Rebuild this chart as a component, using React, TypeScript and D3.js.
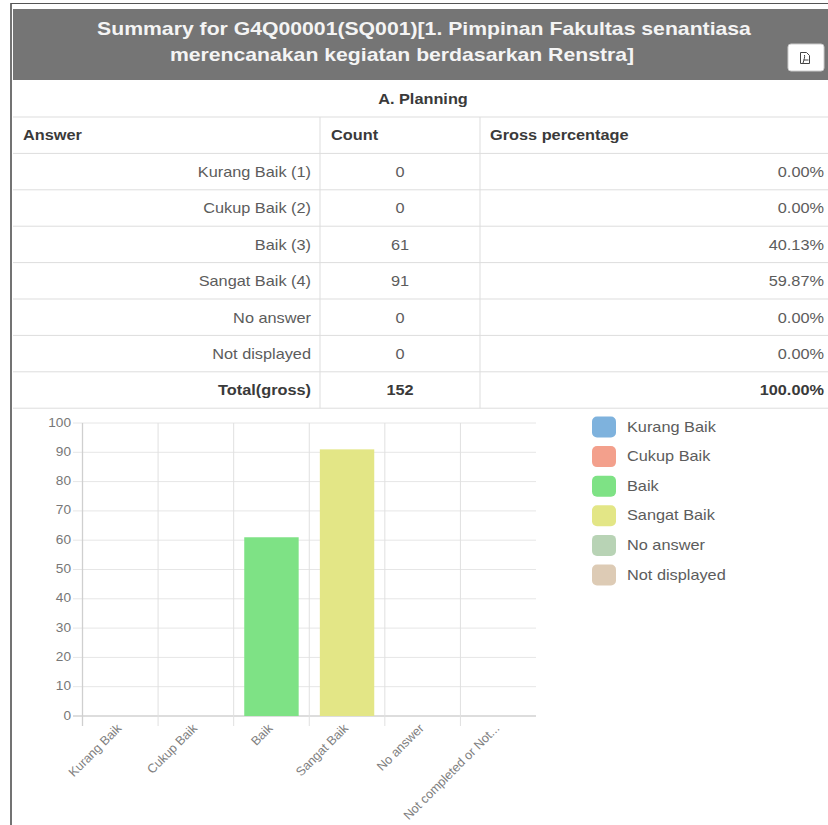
import React from "react";
import * as d3 from "d3";

const axisLabels = ["Kurang Baik", "Cukup Baik", "Baik", "Sangat Baik", "No answer", "Not completed or Not..."];
const legendLabels = ["Kurang Baik", "Cukup Baik", "Baik", "Sangat Baik", "No answer", "Not displayed"];
const answerLabels = ["Kurang Baik (1)", "Cukup Baik (2)", "Baik (3)", "Sangat Baik (4)", "No answer", "Not displayed"];
const counts = [0, 0, 61, 91, 0, 0];
const percents = ["0.00%", "0.00%", "40.13%", "59.87%", "0.00%", "0.00%"];
const colors = ["#7eb2dd", "#f3a08c", "#7ee285", "#e3e686", "#b8d3b5", "#ddcbb5"];
const yTicks = [0, 10, 20, 30, 40, 50, 60, 70, 80, 90, 100];
const titleLines = [
  "Summary for G4Q00001(SQ001)[1. Pimpinan Fakultas senantiasa",
  "merencanakan kegiatan berdasarkan Renstra]",
];
const titleCenters = [424, 402]; // second line sits left of the pdf button

const W = 828;
const H = 825;
const FONT = "'Liberation Sans', Arial, sans-serif";
const STRETCH = 1.14; // the screenshot is a bit wider than tall

const x = d3.scaleBand().domain(axisLabels).range([82.5, 536]);
const y = d3.scaleLinear().domain([0, 100]).range([716, 423]);
const barWidth = x.bandwidth() * 0.72;

const rowY = d3.scaleLinear().domain([0, 1]).range([117, 153.4]);
const legendY = d3.scaleLinear().domain([0, 1]).range([427, 456.6]);

function T({ x, y, anchor = "start", size = 14.3, weight = "normal", fill = "#5c5c5c", children }: any) {
  return (
    <text
      transform={`translate(${x},${y}) scale(${STRETCH},1)`}
      textAnchor={anchor}
      fontSize={size}
      fontWeight={weight}
      fill={fill}
      fontFamily={FONT}
    >
      {children}
    </text>
  );
}

export default function App() {
  const lineColor = "#dddddd";
  const rows = d3.range(9);
  return (
    <svg width={W} height={H} style={{ position: "absolute", left: 0, top: 0, background: "#fff" }}>
      {/* page frame */}
      <line x1={11} x2={11} y1={3} y2={H} stroke="#444" strokeWidth={1.5} />
      <line x1={11} x2={W} y1={3.5} y2={3.5} stroke="#555" strokeWidth={1} />

      {/* header */}
      <rect x={13} y={9} width={W - 13} height={71} fill="#757575" />
      {titleLines.map((t, i) => (
        <T key={t} x={titleCenters[i]} y={35 + i * 26} anchor="middle" size={18.6} weight="bold" fill="#f4f4f4">
          {t}
        </T>
      ))}
      <rect x={788} y={44} width={36} height={27} rx={3} fill="#fff" stroke="#ccc" />
      <path
        d="M800.5 52.5h6l3 3v8h-9z M803 63c1-3 2-6 1.5-8 M803.5 60h5"
        fill="none"
        stroke="#444"
        strokeWidth={1}
      />

      {/* table */}
      <T x={423} y={104} anchor="middle" weight="bold" fill="#3a3a3a">
        A. Planning
      </T>
      {rows.map((r) => (
        <line key={r} x1={13} x2={W} y1={rowY(r)} y2={rowY(r)} stroke={lineColor} />
      ))}
      <line x1={320} x2={320} y1={rowY(0)} y2={rowY(8)} stroke={lineColor} />
      <line x1={480} x2={480} y1={rowY(0)} y2={rowY(8)} stroke={lineColor} />
      <T x={23} y={140} weight="bold" fill="#3a3a3a">Answer</T>
      <T x={331} y={140} weight="bold" fill="#3a3a3a">Count</T>
      <T x={490} y={140} weight="bold" fill="#3a3a3a">Gross percentage</T>
      {answerLabels.map((a, i) => (
        <g key={a}>
          <T x={311} y={rowY(i + 1) + 23.5} anchor="end">{a}</T>
          <T x={400} y={rowY(i + 1) + 23.5} anchor="middle">{counts[i]}</T>
          <T x={824} y={rowY(i + 1) + 23.5} anchor="end">{percents[i]}</T>
        </g>
      ))}
      <T x={311} y={rowY(7) + 23.5} anchor="end" weight="bold" fill="#3a3a3a">Total(gross)</T>
      <T x={400} y={rowY(7) + 23.5} anchor="middle" weight="bold" fill="#3a3a3a">{d3.sum(counts)}</T>
      <T x={824} y={rowY(7) + 23.5} anchor="end" weight="bold" fill="#3a3a3a">100.00%</T>

      {/* chart grid */}
      {yTicks.map((t) => (
        <g key={t}>
          <line
            x1={73}
            x2={536}
            y1={y(t)}
            y2={y(t)}
            stroke={t === 0 ? "#bbbbbb" : "#e6e6e6"}
          />
          <T x={71} y={y(t) + 3.5} anchor="end" size={12} fill="#777">{t}</T>
        </g>
      ))}
      {axisLabels.map((l, i) => (
        <line
          key={l}
          x1={x(l)!}
          x2={x(l)!}
          y1={y(100)}
          y2={726}
          stroke={i === 0 ? "#cfcfcf" : "#e0e0e0"}
          strokeWidth={i === 0 ? 1.3 : 1}
        />
      ))}

      {/* bars */}
      {axisLabels.map((l, i) => (
        <rect
          key={l}
          x={x(l)! + (x.bandwidth() - barWidth) / 2}
          y={y(counts[i])}
          width={barWidth}
          height={y(0) - y(counts[i])}
          fill={colors[i]}
        />
      ))}

      {/* rotated labels */}
      {axisLabels.map((l) => (
        <text
          key={l}
          transform={`translate(${x(l)! + x.bandwidth() / 2 + 2},${729}) rotate(-45)`}
          textAnchor="end"
          fontSize={12.6}
          fill="#808080"
          fontFamily={FONT}
        >
          {l}
        </text>
      ))}

      {/* legend */}
      {legendLabels.map((l, i) => (
        <g key={l}>
          <rect x={592} y={legendY(i) - 10.5} width={24} height={21} rx={5} fill={colors[i]} />
          <T x={627} y={legendY(i) + 4.5}>{l}</T>
        </g>
      ))}
    </svg>
  );
}
